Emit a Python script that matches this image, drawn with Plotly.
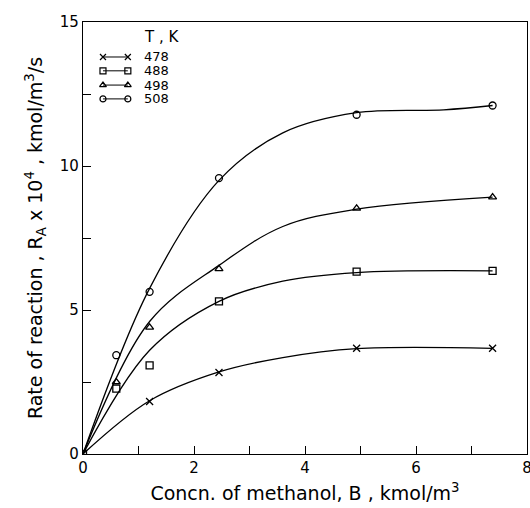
import plotly.graph_objects as go

# ---- data ----
temps = ["478", "488", "498", "508"]
symbols = ["x-thin-open", "square-open", "triangle-up-open", "circle-open"]

x_478 = [1.2, 2.45, 4.93, 7.38]
y_478 = [1.82, 2.83, 3.67, 3.67]
x_488 = [0.0, 0.6, 1.2, 2.45, 4.93, 7.38]
y_488 = [0.0, 2.27, 3.08, 5.3, 6.33, 6.36]
x_498 = [0.6, 1.2, 2.45, 4.93, 7.38]
y_498 = [2.5, 4.4, 6.43, 8.53, 8.92]
x_508 = [0.6, 1.2, 2.45, 4.93, 7.38]
y_508 = [3.43, 5.63, 9.58, 11.78, 12.1]

# smooth fitted curves (knots)
cx_478 = [0.0, 1.2, 2.45, 3.6, 4.93, 7.38]
cy_478 = [0.0, 1.85, 2.85, 3.35, 3.66, 3.67]
cx_488 = [0.0, 1.2, 2.45, 3.6, 4.93, 7.38]
cy_488 = [0.0, 3.6, 5.3, 6.0, 6.3, 6.36]
cx_498 = [0.0, 1.2, 2.45, 3.6, 4.93, 7.38]
cy_498 = [0.0, 4.6, 6.55, 7.9, 8.5, 8.92]
cx_508 = [0.0, 1.2, 2.45, 3.6, 4.93, 6.5, 7.38]
cy_508 = [0.0, 5.75, 9.5, 11.15, 11.85, 11.95, 12.1]

xs = [x_478, x_488, x_498, x_508]
ys = [y_478, y_488, y_498, y_508]
cxs = [cx_478, cx_488, cx_498, cx_508]
cys = [cy_478, cy_488, cy_498, cy_508]

FONT = "DejaVu Sans"
fig = go.Figure()

for cx, cy in zip(cxs, cys):
    fig.add_trace(go.Scatter(x=cx, y=cy, mode="lines",
                             line=dict(color="black", width=1.3, shape="spline", smoothing=1.0),
                             showlegend=False, hoverinfo="skip"))

for x, y, s in zip(xs, ys, symbols):
    fig.add_trace(go.Scatter(x=x, y=y, mode="markers",
                             marker=dict(symbol=s, size=7, color="black",
                                         line=dict(color="black", width=1.3)),
                             showlegend=False))

# custom legend glyphs (marker - line - marker), in an overlay axis with paper-like units
leg_x = [0.045, 0.101]
leg_rows = [0.919, 0.887, 0.854, 0.822]
for t, s, ry in zip(temps, symbols, leg_rows):
    fig.add_trace(go.Scatter(x=leg_x, y=[ry, ry], mode="lines+markers",
                             xaxis="x2", yaxis="y2",
                             line=dict(color="black", width=1),
                             marker=dict(symbol=s, size=6, color="black",
                                         line=dict(color="black", width=1.2)),
                             showlegend=False, hoverinfo="skip"))
    fig.add_annotation(x=0.133, y=ry, xref="x2", yref="y2", text=t,
                       showarrow=False, xanchor="left", yanchor="middle",
                       font=dict(family=FONT, size=13, color="black"))
fig.add_annotation(x=0.133, y=0.965, xref="x2", yref="y2", text="T , K",
                   showarrow=False, xanchor="left", yanchor="middle",
                   font=dict(family=FONT, size=15, color="black"))

fig.update_layout(
    width=530, height=508,
    margin=dict(l=83, r=3, t=22, b=54, autoexpand=False),
    paper_bgcolor="white", plot_bgcolor="white",
    font=dict(family=FONT, size=14, color="black"),
    xaxis=dict(range=[0, 8], dtick=2, tick0=0, ticks="inside", ticklen=8, tickwidth=1.2,
               tickcolor="black", showline=True, linecolor="black", linewidth=1.3,
               mirror=True, showgrid=False, zeroline=False, ticklabeloverflow="allow",
               automargin=False,
               minor=dict(dtick=1, ticks="inside", ticklen=8, tickwidth=1.2, tickcolor="black"),
               title=dict(text="Concn. of methanol, B , kmol/m<sup>3</sup>",
                          font=dict(family=FONT, size=19), standoff=10),
               tickfont=dict(family=FONT, size=15)),
    yaxis=dict(range=[0, 15], dtick=5, tick0=0, ticks="inside", ticklen=8, tickwidth=1.2,
               tickcolor="black", showline=True, linecolor="black", linewidth=1.3,
               mirror=True, showgrid=False, zeroline=False, ticklabeloverflow="allow",
               automargin=False,
               minor=dict(dtick=2.5, ticks="inside", ticklen=8, tickwidth=1.2, tickcolor="black"),
               title=dict(text="Rate of reaction , R<sub>A</sub> x 10<sup>4</sup> , kmol/m<sup>3</sup>/s",
                          font=dict(family=FONT, size=19), standoff=12),
               tickfont=dict(family=FONT, size=15)),
    xaxis2=dict(range=[0, 1], overlaying="x", visible=False, fixedrange=True),
    yaxis2=dict(range=[0, 1], overlaying="y", visible=False, fixedrange=True),
)

fig.write_html("out.html")
